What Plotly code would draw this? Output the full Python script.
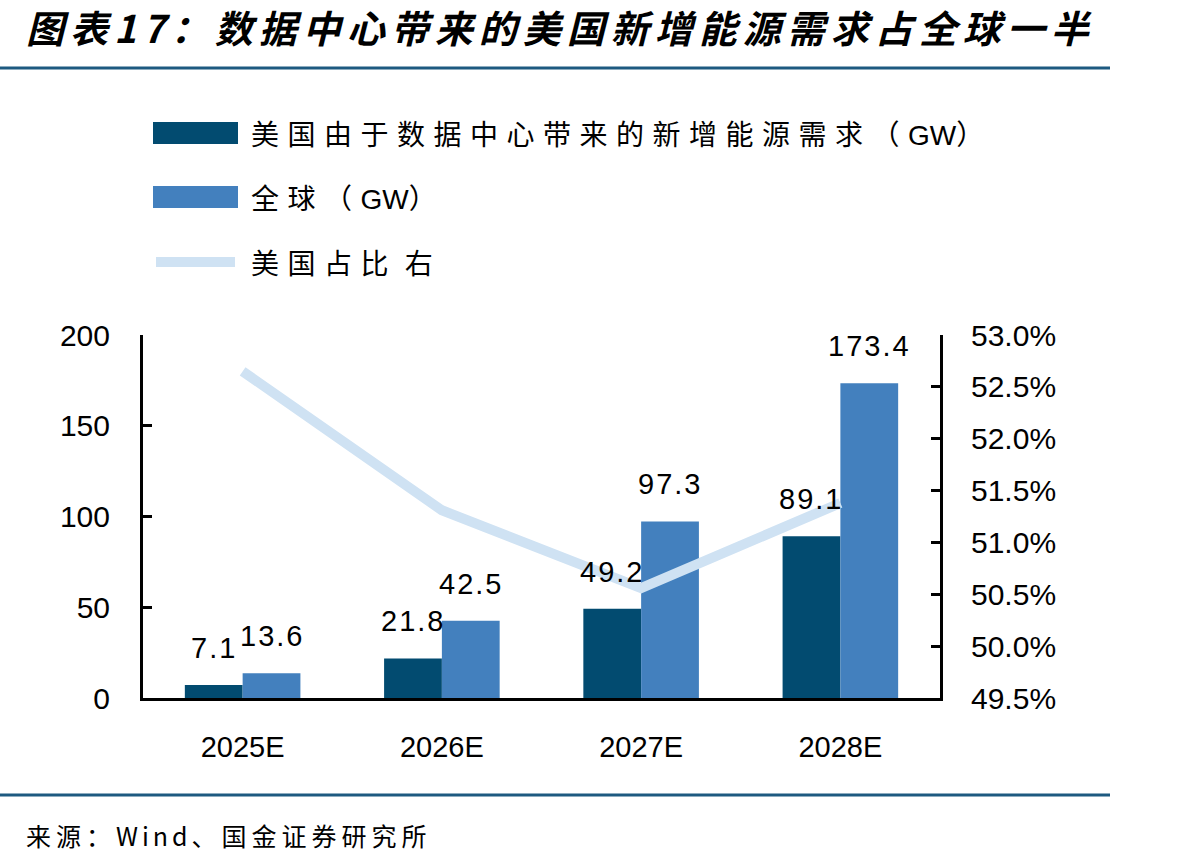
import re
import plotly.graph_objects as go

# ---- data ----
categories = ["2025E", "2026E", "2027E", "2028E"]
us_gw = [7.1, 21.8, 49.2, 89.1]
global_gw = [13.6, 42.5, 97.3, 173.4]
us_share_pct = [52.65, 51.31, 50.56, 51.38]

series_names = ["美国由于数据中心带来的新增能源需求（GW）", "全球（GW）", "美国占比 右"]
title_text = "图表17：数据中心带来的美国新增能源需求占全球一半"
source_text = "来源：Wind、国金证券研究所"

left_ticks = [0, 50, 100, 150, 200]
right_ticks = [49.5, 50.0, 50.5, 51.0, 51.5, 52.0, 52.5, 53.0]

# ---- styling ----
W, H = 1198, 866
DARK = "#024B70"
MID = "#4380BE"
LIGHT = "#CFE2F3"
RULE = "#1D5A80"
NUM_FONT = "Liberation Sans, Arial, sans-serif"
CJK_FONT = "Noto Sans CJK SC, sans-serif"


def px(x):
    return x / W


def py(y):
    return 1 - y / H


def spaced(text, cjk_sp, ascii_sp=0, ascii_font=None):
    parts = re.findall(r"[A-Za-z0-9 ]+|[^A-Za-z0-9 ]+", text)
    out = []
    for p in parts:
        if re.match(r"[A-Za-z0-9 ]", p):
            style = f"letter-spacing:{ascii_sp}px"
            if ascii_font:
                style += f";font-family:{ascii_font}"
        else:
            style = f"letter-spacing:{cjk_sp}px"
        out.append(f"<span style='{style}'>{p}</span>")
    return "".join(out)


fig = go.Figure()
fig.add_trace(go.Bar(x=categories, y=us_gw, name=series_names[0], marker_color=DARK,
                     marker_line_width=0, offsetgroup="us", showlegend=False))
fig.add_trace(go.Bar(x=categories, y=global_gw, name=series_names[1], marker_color=MID,
                     marker_line_width=0, offsetgroup="gl", showlegend=False))
fig.add_trace(go.Scatter(x=categories, y=us_share_pct, name=series_names[2], yaxis="y2",
                         mode="lines", line=dict(color=LIGHT, width=10),
                         showlegend=False))

annotations = []
# value labels above bars
for vals, shift in ((us_gw, -29), (global_gw, 29)):
    for c, v in zip(categories, vals):
        annotations.append(dict(x=c, y=v, xref="x", yref="y",
                                text=f"<span style='letter-spacing:2px'>{v:.1f}</span>",
                                showarrow=False, xanchor="center", yanchor="bottom",
                                xshift=shift, yshift=19,
                                font=dict(family=NUM_FONT, size=29, color="black")))

# title
annotations.append(dict(x=px(24), y=py(27), xref="paper", yref="paper",
                        text=f"<b><i><span style='letter-spacing:6px'>{title_text}</span></i></b>",
                        showarrow=False, xanchor="left", yanchor="middle",
                        font=dict(family=CJK_FONT, size=38, color="black")))
# source
annotations.append(dict(x=px(24), y=py(835), xref="paper", yref="paper",
                        text=spaced(source_text, 5, 4),
                        showarrow=False, xanchor="left", yanchor="middle",
                        font=dict(family=CJK_FONT, size=25, color="black")))

# manual legend
legend_rows = [(133, "bar", DARK), (197, "bar", MID), (262, "line", LIGHT)]
shapes = []
for (yc, kind, col), name in zip(legend_rows, series_names):
    if kind == "bar":
        shapes.append(dict(type="rect", xref="paper", yref="paper",
                           x0=px(153), x1=px(238), y0=py(yc - 11), y1=py(yc + 11),
                           fillcolor=col, line=dict(width=0)))
    else:
        shapes.append(dict(type="line", xref="paper", yref="paper",
                           x0=px(156), x1=px(235), y0=py(yc), y1=py(yc),
                           line=dict(color=col, width=10)))
    annotations.append(dict(x=px(249), y=py(yc), xref="paper", yref="paper",
                            text=spaced(name, 8.5, 0, "Liberation Sans"),
                            showarrow=False, xanchor="left", yanchor="middle",
                            font=dict(family=CJK_FONT, size=28, color="black")))

# horizontal rules
for yr in (68, 795):
    shapes.append(dict(type="line", xref="paper", yref="paper",
                       x0=0, x1=px(1110), y0=py(yr), y1=py(yr),
                       line=dict(color=RULE, width=3)))

fig.update_layout(
    width=W, height=H,
    margin=dict(l=0, r=0, t=0, b=0, autoexpand=False),
    paper_bgcolor="white", plot_bgcolor="white",
    barmode="group", bargap=0.42, bargroupgap=0,
    showlegend=False,
    xaxis=dict(domain=[px(143), px(940)], showline=True, linecolor="black", linewidth=3,
               ticks="", showgrid=False, zeroline=False,
               tickfont=dict(family=NUM_FONT, size=29, color="black"),
               ticklabelstandoff=21, automargin=False),
    yaxis=dict(domain=[py(698), py(335)], range=[0, 200], tickvals=left_ticks,
               showline=True, linecolor="black", linewidth=3, ticks="inside",
               ticklen=9, tickwidth=3, tickcolor="black", showgrid=False, zeroline=False,
               tickfont=dict(family=NUM_FONT, size=30, color="black"),
               ticklabelstandoff=24, automargin=False),
    yaxis2=dict(overlaying="y", side="right", range=[49.5, 53.0], tickvals=right_ticks,
                ticktext=[f"{v:.1f}%" for v in right_ticks],
                showline=True, linecolor="black", linewidth=3, ticks="inside",
                ticklen=9, tickwidth=3, tickcolor="black", showgrid=False, zeroline=False,
                tickfont=dict(family=NUM_FONT, size=30, color="black"),
                ticklabelstandoff=22, automargin=False, anchor="x"),
    annotations=annotations,
    shapes=shapes,
)

fig.write_html("out.html")
